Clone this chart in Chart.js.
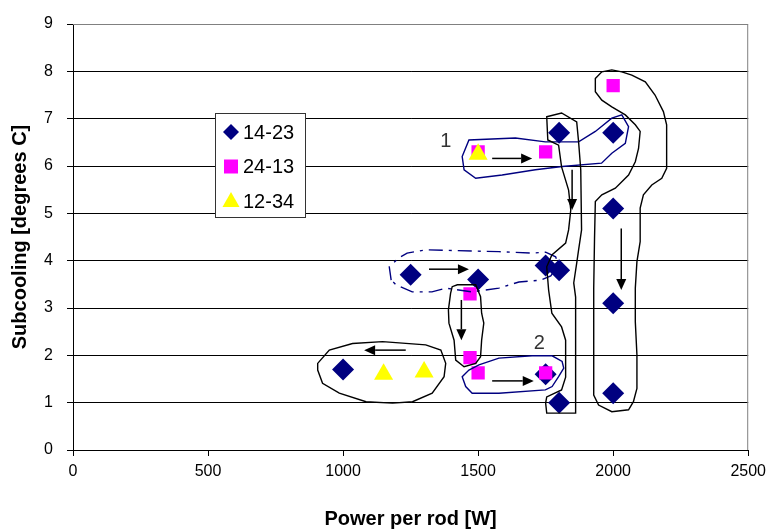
<!DOCTYPE html>
<html>
<head>
<meta charset="utf-8">
<script src="https://cdn.jsdelivr.net/npm/chart.js@4/dist/chart.umd.min.js"></script>
<style>
  html, body { margin: 0; padding: 0; background: #fff; }
  #wrap { width: 772px; height: 529px; position: relative; }
</style>
</head>
<body>
<div id="wrap"><canvas id="subChart"></canvas></div>
<script>
// assi
const xTicks = [0, 500, 1000, 1500, 2000, 2500];
const yTicks = [0, 1, 2, 3, 4, 5, 6, 7, 8, 9];

// serie
const seriesNames = ["14-23", "24-13", "12-34"];
const power1423 = [1000, 1250, 1500, 1750, 1800, 1800, 1750, 1800, 2000, 2000, 2000, 2000];
const sub1423 = [1.7, 3.7, 3.6, 3.9, 3.8, 6.7, 1.6, 1.0, 6.7, 5.1, 3.1, 1.2];
const power2413 = [1500, 1750, 2000, 1470, 1470, 1500, 1750];
const sub2413 = [6.3, 6.3, 7.7, 3.3, 1.95, 1.63, 1.63];
const power1234 = [1500, 1150, 1300];
const sub1234 = [6.25, 1.6, 1.65];

// contorni disegnati a mano (unita' dati)
const loopTop = [[1441,6.2],[1466,6.55],[1638,6.59],[1749,6.51],[1872,6.51],[1934,6.73],[1995,7.01],[2032,7.08],[2057,6.83],[2045,6.48],[1995,6.27],[1957,6.06],[1811,5.99],[1712,5.92],[1589,5.81],[1491,5.74],[1448,5.92]];
const loopCol1800 = [[1754,7.04],[1809,7.12],[1865,6.93],[1872,6.51],[1880,5.92],[1883,4.65],[1872,4.23],[1865,3.95],[1854,3.53],[1861,3.23],[1861,0.78],[1754,0.78],[1750,0.99],[1754,1.12],[1809,1.27],[1824,1.54],[1824,2.32],[1809,2.6],[1773,2.89],[1761,3.38],[1754,3.87],[1773,4.12],[1824,4.37],[1835,4.65],[1843,5.07],[1835,5.49],[1809,5.98],[1798,6.44],[1758,6.55]];
const loopCol2000 = [[1934,7.85],[1958,7.99],[1995,8.03],[2032,7.99],[2069,7.92],[2119,7.78],[2155,7.5],[2186,7.15],[2198,6.87],[2198,6.37],[2198,5.95],[2180,5.74],[2143,5.6],[2112,5.39],[2100,5.11],[2100,4.4],[2088,3.98],[2082,3.42],[2082,2.71],[2088,2.01],[2088,1.3],[2075,1.02],[2057,0.85],[1995,0.81],[1946,0.95],[1928,1.16],[1928,2.01],[1928,3.42],[1931,4.47],[1934,5.25],[1958,5.39],[2008,5.53],[2057,5.81],[2082,6.09],[2094,6.37],[2100,6.73],[2082,6.87],[2045,7.08],[1995,7.25],[1958,7.39],[1934,7.57]];
const loopMid = [[1178,3.59],[1171,3.87],[1207,4.06],[1237,4.16],[1307,4.23],[1577,4.19],[1699,4.16],[1750,4.18],[1787,4.08],[1798,3.91],[1769,3.68],[1732,3.59],[1651,3.55],[1577,3.42],[1477,3.34],[1381,3.42],[1329,3.34],[1256,3.34],[1196,3.49]];
const loopCol1475 = [[1423,3.49],[1491,3.49],[1509,3.24],[1513,2.89],[1521,2.68],[1513,2.32],[1509,1.97],[1491,1.83],[1448,1.76],[1417,1.9],[1411,2.32],[1392,2.68],[1390,2.96],[1398,3.31],[1404,3.45]];
const loopLow = [[1441,1.55],[1466,1.69],[1503,1.8],[1577,1.94],[1700,1.99],[1774,1.99],[1811,1.87],[1817,1.73],[1798,1.55],[1774,1.34],[1749,1.27],[1577,1.2],[1478,1.2],[1454,1.34]];
const loopLeft = [[906,1.83],[949,2.11],[1035,2.25],[1146,2.29],[1306,2.22],[1362,2.11],[1380,1.83],[1374,1.55],[1330,1.2],[1257,1.02],[1183,0.99],[1085,1.02],[986,1.2],[924,1.41],[906,1.69]];
const arrows = [
    [[1552,6.16],[1700,6.16]],
    [[1848,5.92],[1848,5.07]],
    [[2030,4.68],[2030,3.38]],
    [[1318,3.82],[1466,3.82]],
    [[1438,3.17],[1438,2.32]],
    [[1552,1.46],[1706,1.46]],
    [[1232,2.11],[1078,2.11]]
];
const stepLabels = [["1", 1380, 6.51], ["2", 1727, 2.25]];

const FONT = "'Liberation Sans', Arial, sans-serif";

function drawLoop(ctx, chart, pts, color, dash) {
    const sx = chart.scales.x, sy = chart.scales.y;
    ctx.save();
    ctx.strokeStyle = color;
    ctx.lineWidth = 1.4;
    ctx.setLineDash(dash || []);
    ctx.beginPath();
    pts.forEach((p, i) => {
        const x = sx.getPixelForValue(p[0]);
        const y = sy.getPixelForValue(p[1]);
        if (i === 0) ctx.moveTo(x, y); else ctx.lineTo(x, y);
    });
    ctx.closePath();
    ctx.stroke();
    ctx.restore();
}

function drawArrow(ctx, chart, a) {
    const sx = chart.scales.x, sy = chart.scales.y;
    const x1 = sx.getPixelForValue(a[0][0]), y1 = sy.getPixelForValue(a[0][1]);
    const x2 = sx.getPixelForValue(a[1][0]), y2 = sy.getPixelForValue(a[1][1]);
    const ang = Math.atan2(y2 - y1, x2 - x1);
    const len = 11, half = 5;
    const bx = x2 - Math.cos(ang) * len, by = y2 - Math.sin(ang) * len;
    ctx.save();
    ctx.strokeStyle = "#000";
    ctx.fillStyle = "#000";
    ctx.lineWidth = 1.5;
    ctx.beginPath();
    ctx.moveTo(x1, y1);
    ctx.lineTo(bx, by);
    ctx.stroke();
    ctx.beginPath();
    ctx.moveTo(x2, y2);
    ctx.lineTo(bx - Math.sin(ang) * half, by + Math.cos(ang) * half);
    ctx.lineTo(bx + Math.sin(ang) * half, by - Math.cos(ang) * half);
    ctx.closePath();
    ctx.fill();
    ctx.restore();
}

function legendMarker(ctx, kind, x, y) {
    ctx.beginPath();
    if (kind === "diamond") {
        ctx.fillStyle = "#000080";
        ctx.moveTo(x, y - 8); ctx.lineTo(x + 8, y); ctx.lineTo(x, y + 8); ctx.lineTo(x - 8, y);
    } else if (kind === "square") {
        ctx.fillStyle = "#ff00ff";
        ctx.rect(x - 7, y - 7, 14, 14);
    } else {
        ctx.fillStyle = "#ffff00";
        ctx.moveTo(x, y - 9); ctx.lineTo(x + 8.5, y + 6); ctx.lineTo(x - 8.5, y + 6);
    }
    ctx.closePath();
    ctx.fill();
}

const overlay = {
    id: "overlay",
    beforeDatasetsDraw(chart) {
        const { ctx, chartArea: a } = chart;
        ctx.save();
        ctx.strokeStyle = "#808080";
        ctx.lineWidth = 1;
        ctx.beginPath();
        ctx.moveTo(a.left, a.top + 0.5);
        ctx.lineTo(a.right - 0.5, a.top + 0.5);
        ctx.lineTo(a.right - 0.5, a.bottom);
        ctx.stroke();
        ctx.restore();
    },
    afterDatasetsDraw(chart) {
        const { ctx, chartArea: a } = chart;
        const sx = chart.scales.x, sy = chart.scales.y;

        drawLoop(ctx, chart, loopTop, "#000080");
        drawLoop(ctx, chart, loopLow, "#000080");
        drawLoop(ctx, chart, loopMid, "#000080", [14, 6, 3, 6]);
        drawLoop(ctx, chart, loopCol1800, "#000");
        drawLoop(ctx, chart, loopCol2000, "#000");
        drawLoop(ctx, chart, loopCol1475, "#000");
        drawLoop(ctx, chart, loopLeft, "#000");
        arrows.forEach(ar => drawArrow(ctx, chart, ar));

        ctx.save();
        ctx.fillStyle = "#333";
        ctx.font = "20px " + FONT;
        ctx.textAlign = "center";
        ctx.textBaseline = "middle";
        stepLabels.forEach(l => ctx.fillText(l[0], sx.getPixelForValue(l[1]), sy.getPixelForValue(l[2])));
        ctx.restore();

        // legenda
        const lx = a.left + 142, ly = a.top + 89, lw = 90, lh = 104;
        ctx.save();
        ctx.fillStyle = "#fff";
        ctx.fillRect(lx, ly, lw, lh);
        ctx.strokeStyle = "#333";
        ctx.lineWidth = 1;
        ctx.strokeRect(lx + 0.5, ly + 0.5, lw, lh);
        const kinds = ["diamond", "square", "triangle"];
        ctx.font = "20px " + FONT;
        ctx.textBaseline = "middle";
        ctx.textAlign = "left";
        seriesNames.forEach((name, i) => {
            const cy = ly + 19 + i * 34.5;
            legendMarker(ctx, kinds[i], lx + 16, cy);
            ctx.fillStyle = "#000";
            ctx.fillText(name, lx + 28, cy + 1);
        });
        ctx.restore();
    }
};

function toPoints(xs, ys) {
    return xs.map((x, i) => ({ x: x, y: ys[i] }));
}

const ctx = document.getElementById("subChart").getContext("2d");

new Chart(ctx, {
    type: "scatter",
    data: {
        datasets: [
            {
                label: seriesNames[0],
                data: toPoints(power1423, sub1423),
                pointStyle: "rectRot",
                pointRadius: 11,
                backgroundColor: "#000080",
                borderWidth: 0,
                order: 3
            },
            {
                label: seriesNames[1],
                data: toPoints(power2413, sub2413),
                pointStyle: "rect",
                pointRadius: 9.4,
                backgroundColor: "#ff00ff",
                borderWidth: 0,
                order: 2
            },
            {
                label: seriesNames[2],
                data: toPoints(power1234, sub1234),
                pointStyle: "triangle",
                pointRadius: 11,
                backgroundColor: "#ffff00",
                borderWidth: 0,
                order: 1
            }
        ]
    },
    options: {
        responsive: true,
        maintainAspectRatio: false,
        animation: false,
        events: [],
        layout: { padding: { top: 24, right: 22, left: 0, bottom: 0 } },
        plugins: {
            legend: { display: false },
            tooltip: { enabled: false }
        },
        scales: {
            x: {
                type: "linear",
                min: 0,
                max: 2500,
                afterBuildTicks: s => { s.ticks = xTicks.map(v => ({ value: v })); },
                afterFit: s => { s.height = 79; },
                ticks: {
                    color: "#000",
                    font: { family: FONT, size: 16 },
                    padding: 6,
                    maxRotation: 0,
                    callback: v => String(v)
                },
                grid: { drawOnChartArea: false, tickLength: 6, color: "#000" },
                border: { color: "#000", width: 1 },
                title: {
                    display: true,
                    text: "Power per rod [W]",
                    color: "#000",
                    font: { family: FONT, size: 20, weight: "bold", lineHeight: 1 },
                    padding: { top: 0, bottom: 0 }
                }
            },
            y: {
                type: "linear",
                min: 0,
                max: 9,
                afterBuildTicks: s => { s.ticks = yTicks.map(v => ({ value: v })); },
                afterFit: s => { s.width = 73; },
                ticks: {
                    color: "#000",
                    font: { family: FONT, size: 16 },
                    padding: 14,
                    callback: v => String(v)
                },
                grid: {
                    tickLength: 6,
                    color: c => (c.tick && c.tick.value === 9 ? "#808080" : "#000"),
                    tickColor: "#000"
                },
                border: { color: "#000", width: 1 },
                title: {
                    display: true,
                    text: "Subcooling [degrees C]",
                    color: "#000",
                    font: { family: FONT, size: 20, weight: "bold", lineHeight: 1 },
                    padding: { top: 10, bottom: 0 }
                }
            }
        }
    },
    plugins: [overlay]
});
</script>
</body>
</html>
